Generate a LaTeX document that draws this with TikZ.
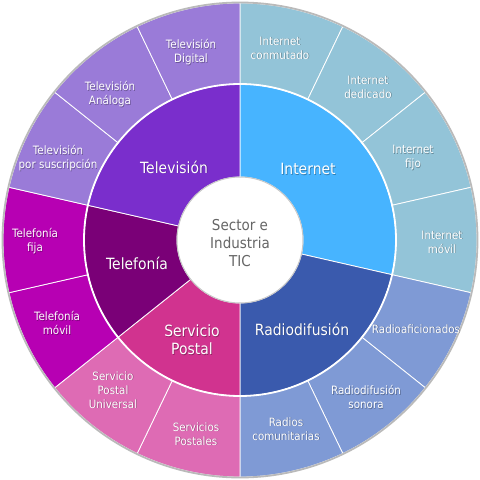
\documentclass[tikz,border=0pt]{standalone}
\usepackage{fontspec}
\setmainfont[FakeStretch=0.9]{DejaVu Sans}
\definecolor{internetM}{HTML}{47B4FF}
\definecolor{internetO}{HTML}{93C4D8}
\definecolor{radioM}{HTML}{3A5AAD}
\definecolor{radioO}{HTML}{7F9AD5}
\definecolor{postalM}{HTML}{D1338F}
\definecolor{postalO}{HTML}{DE6BB4}
\definecolor{telM}{HTML}{7A0077}
\definecolor{telO}{HTML}{B700B3}
\definecolor{tvM}{HTML}{7A2ECC}
\definecolor{tvO}{HTML}{9A7BD8}
\definecolor{centertext}{HTML}{666666}
\newcommand\sect[5]{\fill[#1,draw=white,line width=0.8pt] (#2:#4pt) arc[start angle=#2,end angle=#3,radius=#4pt] -- (#3:#5pt) arc[start angle=#3,end angle=#2,radius=#5pt] -- cycle;}
\tikzset{
  lbltxt/.style={align=center,text=white,inner sep=0pt},
  lblshadow/.style={align=center,text=black,opacity=0.3,inner sep=0pt},
  outerfont/.style={font=\fontsize{11.5}{14}\selectfont},
  midfont/.style={font=\fontsize{15.5}{18}\selectfont},
}
\newcommand\lbl[5]{\node[lblshadow,#4] (#1s) at (#2+0.7,#3-0.7) {#5};
  \node[lbltxt,#4] (#1) at (#2,#3) {#5};}
\begin{document}
\begin{tikzpicture}[x=1pt,y=1pt]
\useasboundingbox[fill=white] (-240,-240) rectangle (240,240);
% middle ring
\sect{internetM}{90}{-12.8571}{63}{156}
\sect{radioM}{-12.8571}{-90}{63}{156}
\sect{postalM}{-90}{-141.4286}{63}{156}
\sect{telM}{-141.4286}{-192.8571}{63}{156}
\sect{tvM}{167.1429}{90}{63}{156}
% outer ring
\sect{internetO}{90}{64.2857}{156}{237}
\sect{internetO}{64.2857}{38.5714}{156}{237}
\sect{internetO}{38.5714}{12.8571}{156}{237}
\sect{internetO}{12.8571}{-12.8571}{156}{237}
\sect{radioO}{-12.8571}{-38.5714}{156}{237}
\sect{radioO}{-38.5714}{-64.2857}{156}{237}
\sect{radioO}{-64.2857}{-90}{156}{237}
\sect{postalO}{-90}{-115.7143}{156}{237}
\sect{postalO}{-115.7143}{-141.4286}{156}{237}
\sect{telO}{-141.4286}{-167.1429}{156}{237}
\sect{telO}{-167.1429}{-192.8571}{156}{237}
\sect{tvO}{167.1429}{141.4286}{156}{237}
\sect{tvO}{141.4286}{115.7143}{156}{237}
\sect{tvO}{115.7143}{90}{156}{237}
\draw[white,line width=1.8pt] (0,0) circle[radius=156pt];
\draw[black!27,line width=1.8pt] (0,0) circle[radius=237.5pt];
\fill[white,draw=black!22,line width=1pt] (0,0) circle[radius=63pt];
% center
\node[align=center,text=centertext,inner sep=0pt,font=\fontsize{15}{18}\selectfont] (center) at (0,-3) {Sector e\\Industria\\TIC};
% middle labels
\lbl{internet}{68}{71}{midfont}{Internet}
\lbl{radio}{62}{-89}{midfont}{Radiodifusión}
\lbl{postal}{-48}{-100}{midfont}{Servicio\\Postal}
\lbl{tel}{-103}{-23}{midfont}{Telefonía}
\lbl{tv}{-66}{73}{midfont}{Televisión}
% outer labels
\lbl{tvdig}{-49}{188}{outerfont}{Televisión\\Digital}
\lbl{tvana}{-130}{146}{outerfont}{Televisión\\Análoga}
\lbl{tvsus}{-182}{82}{outerfont}{Televisión\\por suscripción}
\lbl{telfija}{-205}{-1}{outerfont}{Telefonía\\fija}
\lbl{telmovil}{-183}{-83}{outerfont}{Telefonía\\móvil}
\lbl{spu}{-127}{-150}{outerfont}{Servicio\\Postal\\Universal}
\lbl{sp}{-44}{-194}{outerfont}{Servicios\\Postales}
\lbl{rcom}{46}{-189}{outerfont}{Radios\\comunitarias}
\lbl{rson}{126}{-157}{outerfont}{Radiodifusión\\sonora}
\lbl{rafi}{176}{-89}{outerfont}{Radioaficionados}
\lbl{imov}{202}{-2}{outerfont}{Internet\\móvil}
\lbl{ifijo}{173}{82}{outerfont}{Internet\\fijo}
\lbl{idedi}{128}{153}{outerfont}{Internet\\dedicado}
\lbl{iconm}{40}{192}{outerfont}{Internet\\conmutado}
\end{tikzpicture}
\end{document}
